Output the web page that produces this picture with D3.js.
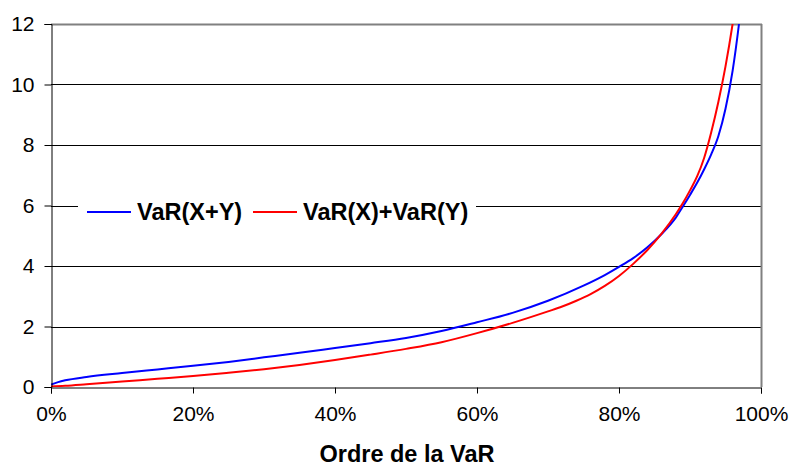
<!DOCTYPE html>
<html>
<head>
<meta charset="utf-8">
<script src="https://cdn.jsdelivr.net/npm/d3@7"></script>
<style>
  html, body { margin: 0; padding: 0; background: #fff; }
  svg { display: block; }
  text { font-family: "Liberation Sans", Arial, sans-serif; fill: #000; }
</style>
</head>
<body>
<svg id="chart" width="792" height="468"></svg>
<script>
// ---- data ----
const seriesNames = ["VaR(X+Y)", "VaR(X)+VaR(Y)"];
const seriesColors = ["#0000ff", "#ff0000"];

// order of the VaR (%)
const ordersBlue = [0, 1, 2, 5, 10, 15, 20, 25, 30, 35, 40, 45, 50, 55, 60, 65, 70, 75, 78, 80, 82, 84, 86, 88, 89, 90, 91, 92, 93, 94, 95, 96, 96.9, 97.3];
const valuesBlue = [0.08, 0.16, 0.22, 0.33, 0.46, 0.58, 0.70, 0.83, 0.98, 1.13, 1.29, 1.45, 1.62, 1.85, 2.14, 2.45, 2.85, 3.35, 3.70, 3.97, 4.26, 4.62, 5.06, 5.60, 5.97, 6.35, 6.75, 7.20, 7.70, 8.30, 9.20, 10.45, 12.0, 12.8];

const ordersRed = [0, 2, 5, 10, 15, 20, 25, 30, 35, 40, 45, 50, 55, 60, 65, 70, 72, 74, 76, 78, 80, 82, 84, 86, 88, 89, 90, 91, 92, 93, 94, 95, 96, 96.5];
const valuesRed = [0.02, 0.04, 0.09, 0.18, 0.27, 0.36, 0.47, 0.59, 0.73, 0.89, 1.07, 1.26, 1.48, 1.78, 2.12, 2.50, 2.66, 2.85, 3.07, 3.34, 3.67, 4.07, 4.53, 5.07, 5.71, 6.08, 6.50, 6.96, 7.58, 8.43, 9.43, 10.6, 12.0, 12.8];

const xTicks = [0, 20, 40, 60, 80, 100];
const yTicks = [0, 2, 4, 6, 8, 10, 12];
const xTitle = "Ordre de la VaR";

// ---- layout ----
const svg = d3.select("#chart");
const L = 51, R = 761, T = 24, B = 387;

const x = d3.scaleLinear().domain([0, 100]).range([L, R]);
const y = d3.scaleLinear().domain([0, 12]).range([B, T]);

svg.append("defs").append("clipPath").attr("id", "plotclip")
  .append("rect").attr("x", L).attr("y", T).attr("width", R - L).attr("height", B - T);

// gridlines
svg.append("g").selectAll("line")
  .data(yTicks.filter(d => d > 0 && d < 12))
  .join("line")
  .attr("x1", L).attr("x2", R)
  .attr("y1", d => Math.round(y(d)) + 0.5).attr("y2", d => Math.round(y(d)) + 0.5)
  .attr("stroke", "#000").attr("stroke-width", 1);

// top & right border (grey)
svg.append("line").attr("x1", L).attr("x2", R + 1).attr("y1", T + 0.5).attr("y2", T + 0.5)
  .attr("stroke", "#808080").attr("stroke-width", 2);
svg.append("line").attr("x1", R + 0.5).attr("x2", R + 0.5).attr("y1", T).attr("y2", B)
  .attr("stroke", "#808080").attr("stroke-width", 2);

// series
const lineGen = d3.line().x(d => x(d[0])).y(d => y(d[1])).curve(d3.curveMonotoneX);
const series = [
  { name: seriesNames[0], color: seriesColors[0], pts: d3.zip(ordersBlue, valuesBlue) },
  { name: seriesNames[1], color: seriesColors[1], pts: d3.zip(ordersRed, valuesRed) }
];
const lines = svg.append("g").attr("clip-path", "url(#plotclip)");
series.forEach(s => {
  lines.append("path").attr("d", lineGen(s.pts))
    .attr("fill", "none").attr("stroke", s.color).attr("stroke-width", 2);
});

// y axis
const yAxis = svg.append("g").attr("transform", `translate(${L + 0.5},0)`)
  .call(d3.axisLeft(y).tickValues(yTicks).tickSize(7).tickPadding(10).tickFormat(d3.format("d")));
yAxis.select(".domain").attr("stroke", "#000");
yAxis.selectAll(".tick line").attr("stroke", "#000");
yAxis.selectAll("text").style("font-size", "21px").attr("fill", "#000");

// x axis
const xAxis = svg.append("g").attr("transform", `translate(0,${B + 0.5})`)
  .call(d3.axisBottom(x).tickValues(xTicks).tickSize(6).tickPadding(13).tickFormat(d => d + "%"));
xAxis.select(".domain").attr("stroke", "#000");
xAxis.selectAll(".tick line").attr("stroke", "#000");
xAxis.selectAll("text").style("font-size", "21px").attr("fill", "#000");

// x title
svg.append("text").attr("x", (L + R) / 2 + 1).attr("y", 462)
  .attr("text-anchor", "middle").style("font-size", "23.5px").style("font-weight", "bold")
  .text(xTitle);

// legend
const lg = svg.append("g");
lg.append("rect").attr("x", 78).attr("y", 194).attr("width", 398).attr("height", 34).attr("fill", "#fff");
const legendItems = [
  { lx: 87, tx: 137, s: series[0] },
  { lx: 253, tx: 303, s: series[1] }
];
legendItems.forEach(it => {
  lg.append("line").attr("x1", it.lx).attr("x2", it.lx + 44).attr("y1", 212).attr("y2", 212)
    .attr("stroke", it.s.color).attr("stroke-width", 2);
  lg.append("text").attr("x", it.tx).attr("y", 220)
    .style("font-size", "23.5px").style("font-weight", "bold").text(it.s.name);
});
</script>
</body>
</html>
